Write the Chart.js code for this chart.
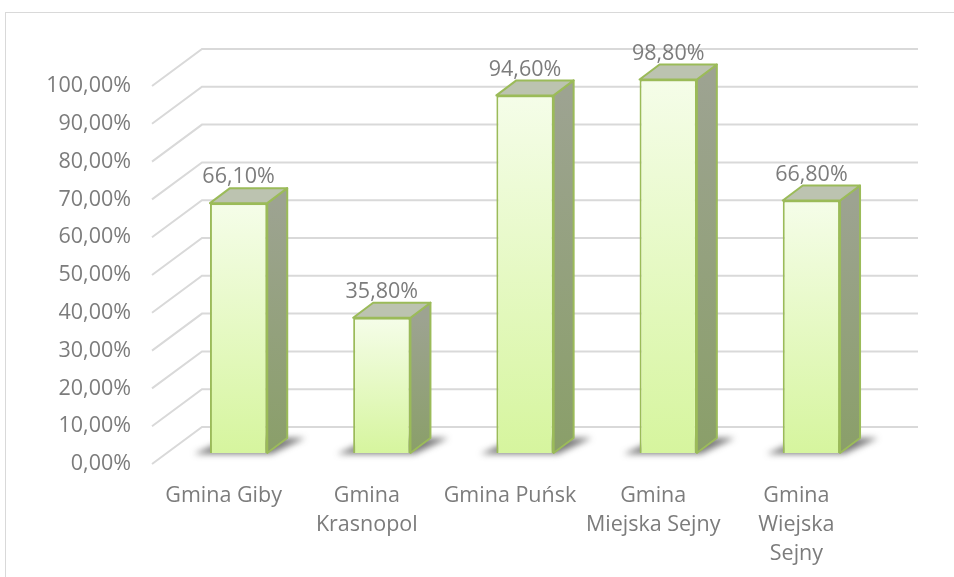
<!DOCTYPE html>
<html>
<head>
<meta charset="utf-8">
<script src="https://cdn.jsdelivr.net/npm/chart.js@4.4.1/dist/chart.umd.min.js"></script>
<style>
  html, body { margin: 0; padding: 0; background: #fff; }
  #wrap { width: 954px; height: 577px; }
</style>
</head>
<body>
<div id="wrap"><canvas id="gminyChart" width="954" height="577"></canvas></div>
<script>
// data
const categories = [
  ['Gmina Giby'],
  ['Gmina', 'Krasnopol'],
  ['Gmina Puńsk'],
  ['Gmina', 'Miejska Sejny'],
  ['Gmina', 'Wiejska', 'Sejny']
];
const values = [66.1, 35.8, 94.6, 98.8, 66.8];
const yTicks = [0, 10, 20, 30, 40, 50, 60, 70, 80, 90, 100];

const textColor = '#7c7c7c';
const gridColor = '#d9d9d9';
const edgeColor = '#9bbb59';
const fontFamily = "'Open Sans', 'DejaVu Sans', sans-serif";
const fontSize = 21.5;

// 3d look: depth of the whole floor, shift of bar front, depth of a bar
const wallDepth = { x: 50, y: -37 };
const barShift = { x: 15, y: -11 };
const barDepth = { x: 20, y: -15 };

function pct(v) {
  return v.toFixed(2).replace('.', ',') + '%';
}

// back wall, gridlines and the diagonals on the side wall
const wallPlugin = {
  id: 'wall',
  beforeDatasetsDraw(chart) {
    const { ctx, chartArea } = chart;
    const y = chart.scales.y;
    ctx.save();
    // outer frame
    ctx.strokeStyle = gridColor;
    ctx.lineWidth = 1;
    ctx.strokeRect(5.5, 12.5, 1000, 700);

    ctx.strokeStyle = gridColor;
    ctx.lineWidth = 2;
    yTicks.forEach(v => {
      const py = y.getPixelForValue(v);
      ctx.beginPath();
      ctx.moveTo(chartArea.left, py);
      ctx.lineTo(chartArea.left + wallDepth.x, py + wallDepth.y);
      ctx.lineTo(chartArea.right + wallDepth.x, py + wallDepth.y);
      ctx.stroke();
    });

    // floor shadows behind the bars
    const meta = chart.getDatasetMeta(0);
    meta.data.forEach(bar => {
      const x0 = bar.x - bar.width / 2 + barShift.x;
      const x1 = bar.x + bar.width / 2 + barShift.x;
      const yb = bar.base + barShift.y;
      ctx.save();
      ctx.filter = 'blur(3px)';
      ctx.fillStyle = 'rgba(50,50,50,0.65)';
      ctx.beginPath();
      ctx.moveTo(x0 - 16, yb + 1);
      ctx.lineTo(x1 + 4, yb + 1);
      ctx.lineTo(x1 + barDepth.x + 18, yb + barDepth.y);
      ctx.lineTo(x0 + barDepth.x, yb + barDepth.y);
      ctx.closePath();
      ctx.fill();
      ctx.restore();
    });
    ctx.restore();

    // bars themselves are drawn a little into the depth
    ctx.save();
    ctx.translate(barShift.x, barShift.y);
  },
  afterDatasetsDraw(chart) {
    const { ctx } = chart;
    ctx.restore();
    const meta = chart.getDatasetMeta(0);
    ctx.save();
    ctx.lineWidth = 2;
    ctx.strokeStyle = edgeColor;
    ctx.lineJoin = 'round';
    meta.data.forEach((bar, i) => {
      const x0 = bar.x - bar.width / 2 + barShift.x;
      const x1 = bar.x + bar.width / 2 + barShift.x;
      const yt = bar.y + barShift.y;
      const yb = bar.base + barShift.y;

      // right side face
      const side = ctx.createLinearGradient(0, yt, 0, yb);
      side.addColorStop(0, '#9da391');
      side.addColorStop(1, '#8a9f69');
      ctx.fillStyle = side;
      ctx.beginPath();
      ctx.moveTo(x1, yt);
      ctx.lineTo(x1 + barDepth.x, yt + barDepth.y);
      ctx.lineTo(x1 + barDepth.x, yb + barDepth.y);
      ctx.lineTo(x1, yb);
      ctx.closePath();
      ctx.fill();
      ctx.stroke();

      // top face
      ctx.fillStyle = '#bcc3b0';
      ctx.beginPath();
      ctx.moveTo(x0, yt);
      ctx.lineTo(x0 + barDepth.x, yt + barDepth.y);
      ctx.lineTo(x1 + barDepth.x, yt + barDepth.y);
      ctx.lineTo(x1, yt);
      ctx.closePath();
      ctx.fill();
      ctx.stroke();

      // value label
      ctx.fillStyle = textColor;
      ctx.font = fontSize + 'px ' + fontFamily;
      ctx.textAlign = 'center';
      ctx.textBaseline = 'middle';
      ctx.fillText(pct(values[i]), bar.x + barShift.x, yt - 26);
    });
    ctx.restore();
  }
};

const data = {
  labels: categories,
  datasets: [{
    data: values,
    backgroundColor: (c) => {
      const chart = c.chart;
      if (!chart.chartArea || c.raw === undefined) return '#e6f9c4';
      const y = chart.scales.y;
      const top = y.getPixelForValue(c.raw);
      const bottom = y.getPixelForValue(0);
      const g = chart.ctx.createLinearGradient(0, top, 0, bottom);
      g.addColorStop(0, '#f5fde9');
      g.addColorStop(1, '#d6f59e');
      return g;
    },
    borderColor: edgeColor,
    borderWidth: 2,
    barPercentage: 0.8,
    categoryPercentage: 0.5
  }]
};

const config = {
  type: 'bar',
  data,
  options: {
    responsive: false,
    animation: false,
    layout: { padding: { top: 86, right: 86, left: 0, bottom: 0 } },
    plugins: {
      legend: { display: false },
      tooltip: { enabled: false }
    },
    scales: {
      x: {
        grid: { display: false, drawTicks: false },
        border: { display: false },
        ticks: {
          color: textColor,
          font: { family: fontFamily, size: fontSize, lineHeight: 1.35 },
          padding: 17,
          maxRotation: 0,
          autoSkip: false
        },
        afterFit: s => { s.height = 113; }
      },
      y: {
        min: 0,
        max: 100,
        grid: { display: false, drawTicks: false },
        border: { display: false },
        ticks: {
          stepSize: 10,
          color: textColor,
          font: { family: fontFamily, size: fontSize },
          padding: 21,
          callback: v => pct(v)
        },
        afterFit: s => { s.width = 152; }
      }
    }
  },
  plugins: [wallPlugin]
};

const gminyChart = new Chart(document.getElementById('gminyChart'), config);
</script>
</body>
</html>
